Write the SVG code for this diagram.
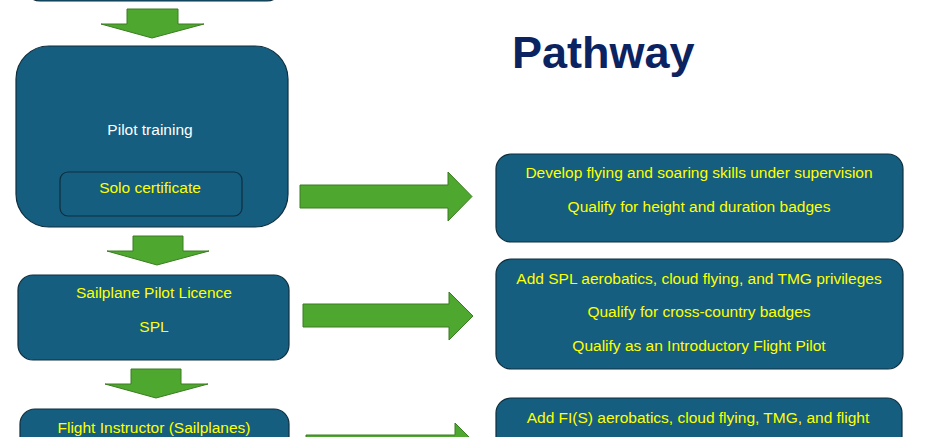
<svg xmlns="http://www.w3.org/2000/svg" width="926" height="437" viewBox="0 0 926 437">
<style>
.box{fill:#155e7f;stroke:#0e2f3f;stroke-width:1.2}
.arr{fill:#4ea72e;stroke:#3b7d22;stroke-width:1}
.t{font-family:"Liberation Sans",Arial,sans-serif;font-size:15.5px;fill:#ffff00;text-anchor:middle}
.w{fill:#ffffff}
.title{font-family:"Liberation Sans",Arial,sans-serif;font-size:45px;font-weight:bold;fill:#0b2461}
</style>
<rect width="926" height="437" fill="#ffffff"/>
<g id="title"><text class="title" x="512" y="68">Pathway</text></g>
<g id="top-box"><rect class="box" x="25" y="-100" width="257" height="101" rx="15"/></g>
<g id="pilot-training">
<rect class="box" x="16" y="46" width="272" height="181" rx="33"/>
<text class="t w" x="150" y="135">Pilot training</text>
<g id="solo-certificate">
<rect class="box" x="60" y="172" width="182" height="44" rx="8"/>
<text class="t" x="150" y="193">Solo certificate</text>
</g>
</g>
<g id="spl">
<rect class="box" x="18" y="275" width="271" height="85" rx="15"/>
<text class="t" x="154" y="298">Sailplane Pilot Licence</text>
<text class="t" x="154" y="332">SPL</text>
</g>
<g id="fi">
<rect class="box" x="20" y="409" width="269" height="80" rx="15"/>
<text class="t" x="154" y="433">Flight Instructor (Sailplanes)</text>
</g>
<g id="solo-outcomes">
<rect class="box" x="496" y="154" width="407" height="88" rx="15"/>
<text class="t" x="699" y="178">Develop flying and soaring skills under supervision</text>
<text class="t" x="699" y="212">Qualify for height and duration badges</text>
</g>
<g id="spl-outcomes">
<rect class="box" x="496" y="259" width="407" height="110" rx="15"/>
<text class="t" x="699" y="284">Add SPL aerobatics, cloud flying, and TMG privileges</text>
<text class="t" x="699" y="317">Qualify for cross-country badges</text>
<text class="t" x="699" y="351">Qualify as an Introductory Flight Pilot</text>
</g>
<g id="fi-outcomes">
<rect class="box" x="496" y="398" width="406" height="100" rx="15"/>
<text class="t" x="698" y="423">Add FI(S) aerobatics, cloud flying, TMG, and flight</text>
</g>
<g id="connectors">
<polygon class="arr" points="127,9 178,9 178,24 204,24 152,38 101,24 127,24"/>
<polygon class="arr" points="300,185 448,185 448,172 472,196.5 448,221 448,208 300,208"/>
<polygon class="arr" points="133,236 183,236 183,251 209,251 157,265 107,251 133,251"/>
<polygon class="arr" points="303,304 449,304 449,292 473,316 449,340 449,327 303,327"/>
<polygon class="arr" points="131,369 181,369 181,384 208,384 156,398 105,384 131,384"/>
<polygon class="arr" points="306,435 455,435 455,423 479,447 455,471 455,459 306,459"/>
</g>
</svg>
